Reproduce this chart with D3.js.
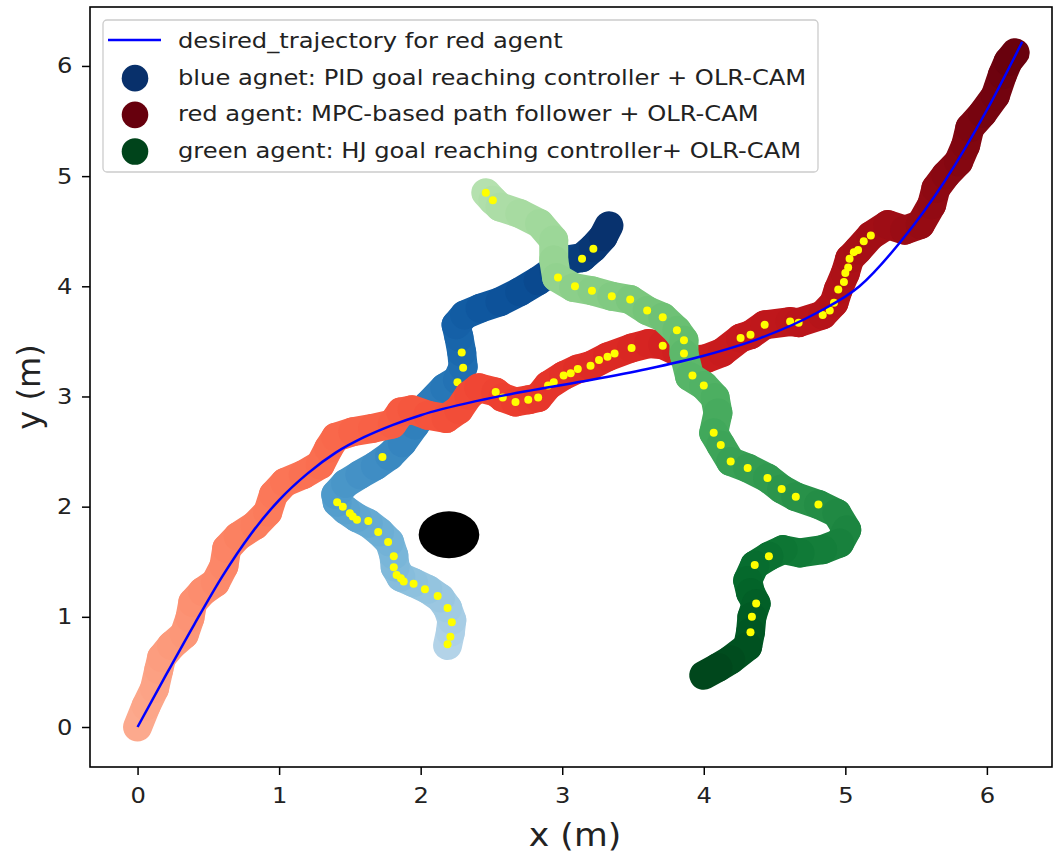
<!DOCTYPE html>
<html>
<head>
<meta charset="utf-8">
<script src="https://cdn.jsdelivr.net/npm/d3@7"></script>
<style>
  html, body { margin: 0; padding: 0; background: #fff; }
  svg { display: block; font-family: "DejaVu Sans", sans-serif; }
</style>
</head>
<body>
<svg id="chart" width="1054" height="854" viewBox="0 0 1054 854"></svg>
<script>
// ticks
const xTicks = [0, 1, 2, 3, 4, 5, 6];
const yTicks = [0, 1, 2, 3, 4, 5, 6];

// desired trajectory for the red agent (x, y in m)
const desiredPath = [
  [0, 0], [0.2, 0.47], [0.4, 0.93], [0.6, 1.37], [0.8, 1.75], [1.0, 2.06],
  [1.2, 2.30], [1.4, 2.49], [1.6, 2.63], [1.8, 2.74], [2.0, 2.83], [2.4, 2.96],
  [2.8, 3.06], [3.2, 3.15], [3.6, 3.25], [4.0, 3.37], [4.4, 3.53], [4.8, 3.76],
  [5.1, 4.00], [5.4, 4.42], [5.7, 4.95], [6.0, 5.60], [6.25, 6.22]
];

// red agent trajectory
const redPath = [
  [0.00, 0.00], [0.06, 0.19], [0.12, 0.35], [0.15, 0.52], [0.17, 0.63], [0.24, 0.74],
  [0.33, 0.84], [0.37, 0.99], [0.39, 1.13], [0.46, 1.23], [0.55, 1.31], [0.61, 1.46],
  [0.63, 1.62], [0.71, 1.73], [0.83, 1.83], [0.92, 1.95], [0.96, 2.11], [1.04, 2.22],
  [1.17, 2.29], [1.29, 2.38], [1.35, 2.53], [1.40, 2.63], [1.52, 2.68], [1.66, 2.71],
  [1.80, 2.75], [1.86, 2.86], [1.94, 2.88], [2.05, 2.83], [2.18, 2.80], [2.27, 2.88],
  [2.34, 3.01], [2.41, 3.08], [2.53, 3.04], [2.58, 2.99], [2.67, 2.95], [2.76, 2.97],
  [2.83, 2.99], [2.90, 3.10], [3.01, 3.19], [3.11, 3.25], [3.20, 3.28], [3.32, 3.36],
  [3.49, 3.44], [3.61, 3.48], [3.71, 3.47], [3.81, 3.41], [3.90, 3.33], [4.01, 3.34],
  [4.13, 3.40], [4.26, 3.53], [4.33, 3.56], [4.43, 3.65], [4.61, 3.68], [4.67, 3.67],
  [4.84, 3.74], [4.92, 3.85], [4.95, 3.97], [5.00, 4.12], [5.03, 4.25], [5.09, 4.33],
  [5.18, 4.46], [5.30, 4.56], [5.42, 4.51], [5.53, 4.56], [5.61, 4.74], [5.64, 4.89],
  [5.71, 5.01], [5.80, 5.13], [5.85, 5.28], [5.88, 5.44], [5.97, 5.57], [6.06, 5.73],
  [6.11, 5.92], [6.15, 6.04], [6.20, 6.12]
];
const redDots = [
  [2.53, 3.04], [2.58, 2.99], [2.67, 2.95], [2.76, 2.97], [2.83, 2.99], [2.90, 3.10],
  [2.94, 3.13], [3.01, 3.19], [3.06, 3.21], [3.11, 3.25], [3.20, 3.28], [3.26, 3.33],
  [3.32, 3.36], [3.37, 3.39], [3.49, 3.44], [3.71, 3.46], [4.26, 3.53], [4.33, 3.56],
  [4.43, 3.65], [4.61, 3.68], [4.67, 3.67], [4.84, 3.74], [4.89, 3.78], [4.92, 3.85],
  [4.95, 3.97], [4.99, 4.04], [5.00, 4.12], [5.02, 4.17], [5.03, 4.25], [5.06, 4.31],
  [5.09, 4.33], [5.13, 4.41], [5.18, 4.46]
];

// blue agent trajectory
const bluePath = [
  [2.19, 0.74], [2.21, 0.86], [2.22, 0.97], [2.19, 1.08], [2.14, 1.17], [2.05, 1.25],
  [1.95, 1.31], [1.86, 1.36], [1.82, 1.45], [1.81, 1.56], [1.78, 1.68], [1.71, 1.77],
  [1.63, 1.85], [1.55, 1.90], [1.47, 1.97], [1.41, 2.04], [1.40, 2.11], [1.47, 2.21],
  [1.57, 2.29], [1.68, 2.37], [1.78, 2.46], [1.87, 2.58], [1.96, 2.74], [2.05, 2.92],
  [2.17, 3.08], [2.26, 3.15], [2.30, 3.27], [2.29, 3.40], [2.27, 3.54], [2.25, 3.65],
  [2.31, 3.74], [2.42, 3.80], [2.56, 3.86], [2.70, 3.95], [2.83, 4.05], [2.94, 4.15],
  [3.04, 4.24], [3.14, 4.26], [3.22, 4.35], [3.29, 4.45], [3.33, 4.55]
];
const blueDots = [
  [1.41, 2.04], [1.45, 2.00], [1.50, 1.94], [1.52, 1.91], [1.55, 1.88], [1.63, 1.87],
  [1.70, 1.77], [1.77, 1.68], [1.81, 1.55], [1.81, 1.45], [1.83, 1.38], [1.86, 1.35],
  [1.88, 1.32], [1.95, 1.30], [2.03, 1.25], [2.12, 1.19], [2.19, 1.08], [2.22, 0.95],
  [2.21, 0.82], [2.19, 0.75], [1.73, 2.45], [2.26, 3.13], [2.30, 3.26], [2.29, 3.40],
  [3.14, 4.25], [3.22, 4.34]
];

// green agent trajectory
const greenPath = [
  [2.46, 4.85], [2.51, 4.78], [2.56, 4.72], [2.70, 4.66], [2.84, 4.57], [2.94, 4.42],
  [2.94, 4.24], [2.96, 4.08], [3.08, 3.99], [3.21, 3.96], [3.35, 3.91], [3.48, 3.88],
  [3.60, 3.78], [3.71, 3.72], [3.81, 3.60], [3.86, 3.51], [3.86, 3.39], [3.90, 3.18],
  [4.00, 3.10], [4.08, 2.99], [4.10, 2.85], [4.07, 2.67], [4.12, 2.56], [4.19, 2.41],
  [4.31, 2.35], [4.45, 2.26], [4.55, 2.16], [4.65, 2.09], [4.81, 2.02], [4.94, 1.94],
  [5.01, 1.79], [4.96, 1.67], [4.84, 1.61], [4.68, 1.58], [4.56, 1.61], [4.46, 1.55],
  [4.36, 1.47], [4.31, 1.33], [4.33, 1.22], [4.37, 1.12], [4.34, 1.00], [4.33, 0.86],
  [4.31, 0.73], [4.19, 0.61], [4.10, 0.54], [4.00, 0.47]
];
const greenDots = [
  [2.46, 4.85], [2.51, 4.78], [2.97, 4.08], [3.09, 4.00], [3.21, 3.96], [3.35, 3.91],
  [3.48, 3.88], [3.60, 3.78], [3.71, 3.72], [3.81, 3.60], [3.86, 3.51], [3.86, 3.39],
  [3.92, 3.19], [4.00, 3.10], [4.07, 2.67], [4.12, 2.56], [4.19, 2.41], [4.31, 2.35],
  [4.45, 2.26], [4.55, 2.16], [4.65, 2.09], [4.81, 2.02], [4.46, 1.55], [4.36, 1.47],
  [4.37, 1.12], [4.34, 1.00], [4.33, 0.86]
];

// obstacle (center and radius in m)
const obstacle = { x: 2.2, y: 1.745, r: 0.214 };

const legendLabels = [
  "desired_trajectory for red agent",
  "blue agnet: PID goal reaching controller + OLR-CAM",
  "red agent: MPC-based path follower + OLR-CAM",
  "green agent: HJ goal reaching controller+ OLR-CAM"
];

const svg = d3.select("#chart");
const plot = { left: 90, right: 1052, top: 7, bottom: 767 };
const textScale = "scale(1.1,1)";

const x = d3.scaleLinear().domain([-0.336, 6.46]).range([plot.left, plot.right]);
const y = d3.scaleLinear().domain([-0.363, 6.535]).range([plot.bottom, plot.top]);

svg.append("defs").append("clipPath").attr("id", "clip")
  .append("rect")
  .attr("x", plot.left).attr("y", plot.top)
  .attr("width", plot.right - plot.left).attr("height", plot.bottom - plot.top);

const plotG = svg.append("g").attr("clip-path", "url(#clip)");

const agents = [
  { path: bluePath, dots: blueDots, interp: d3.interpolateBlues },
  { path: redPath, dots: redDots, interp: d3.interpolateReds },
  { path: greenPath, dots: greenDots, interp: d3.interpolateGreens }
];

agents.forEach((a) => {
  const t = d3.scaleLinear().domain([0, a.path.length - 1]).range([0.3, 1]);
  const g = plotG.append("g");
  g.selectAll("line")
    .data(d3.pairs(a.path))
    .join("line")
    .attr("x1", (d) => x(d[0][0]))
    .attr("y1", (d) => y(d[0][1]))
    .attr("x2", (d) => x(d[1][0]))
    .attr("y2", (d) => y(d[1][1]))
    .attr("stroke", (d, i) => a.interp(t(i + 0.5)))
    .attr("stroke-width", 29)
    .attr("stroke-linecap", "round");

  g.selectAll("circle")
    .data(a.dots)
    .join("circle")
    .attr("cx", (d) => x(d[0]))
    .attr("cy", (d) => y(d[1]))
    .attr("r", 4)
    .attr("fill", "#ffff00");
});

plotG.append("path")
  .datum(desiredPath)
  .attr("fill", "none")
  .attr("stroke", "#0000ff")
  .attr("stroke-width", 2.5)
  .attr("d", d3.line().x((d) => x(d[0])).y((d) => y(d[1])).curve(d3.curveMonotoneX));

plotG.append("ellipse")
  .attr("cx", x(obstacle.x))
  .attr("cy", y(obstacle.y))
  .attr("rx", x(obstacle.x + obstacle.r) - x(obstacle.x))
  .attr("ry", y(obstacle.y - obstacle.r) - y(obstacle.y))
  .attr("fill", "#000");

// axes
const xAxisG = svg.append("g")
  .attr("transform", `translate(0,${plot.bottom})`)
  .call(d3.axisBottom(x).tickValues(xTicks).tickSize(8).tickPadding(12).tickFormat(d3.format("d")));
const yAxisG = svg.append("g")
  .attr("transform", `translate(${plot.left},0)`)
  .call(d3.axisLeft(y).tickValues(yTicks).tickSize(8).tickPadding(8).tickFormat(d3.format("d")));

[xAxisG, yAxisG].forEach((g) => {
  g.select(".domain").remove();
  g.selectAll(".tick line").attr("stroke", "#000").attr("stroke-width", 1.5);
  g.selectAll(".tick text")
    .attr("fill", "#222")
    .style("font-size", "22px")
    .style("font-family", "DejaVu Sans")
    .attr("transform", textScale);
});

svg.append("rect")
  .attr("x", plot.left).attr("y", plot.top)
  .attr("width", plot.right - plot.left).attr("height", plot.bottom - plot.top)
  .attr("fill", "none").attr("stroke", "#000").attr("stroke-width", 1.6);

svg.append("text")
  .attr("transform", `translate(575,846) ${textScale}`)
  .attr("text-anchor", "middle")
  .style("font-size", "31.5px")
  .attr("fill", "#222")
  .text("x (m)");

svg.append("text")
  .attr("transform", `translate(40,${(plot.top + plot.bottom) / 2}) rotate(-90)`)
  .attr("text-anchor", "middle")
  .style("font-size", "32px")
  .attr("fill", "#222")
  .text("y (m)");

// legend
const legend = svg.append("g");
legend.append("rect")
  .attr("x", 103).attr("y", 20)
  .attr("width", 715).attr("height", 152)
  .attr("rx", 4)
  .attr("fill", "#fff").attr("fill-opacity", 0.8)
  .attr("stroke", "#cccccc").attr("stroke-width", 1.3);

const rowY = d3.scalePoint().domain(d3.range(legendLabels.length)).range([40, 150]);

legendLabels.forEach((label, i) => {
  const cy = rowY(i);
  if (i === 0) {
    legend.append("line")
      .attr("x1", 108).attr("x2", 161)
      .attr("y1", cy).attr("y2", cy)
      .attr("stroke", "#0000ff").attr("stroke-width", 2.5);
  } else {
    legend.append("circle")
      .attr("cx", 135).attr("cy", cy + 1.5)
      .attr("r", 13.3)
      .attr("fill", agents[i - 1].interp(1));
  }
  legend.append("text")
    .attr("transform", `translate(178,${cy + 8}) ${textScale}`)
    .style("font-size", "22px")
    .attr("fill", "#222")
    .text(label);
});
</script>
</body>
</html>
